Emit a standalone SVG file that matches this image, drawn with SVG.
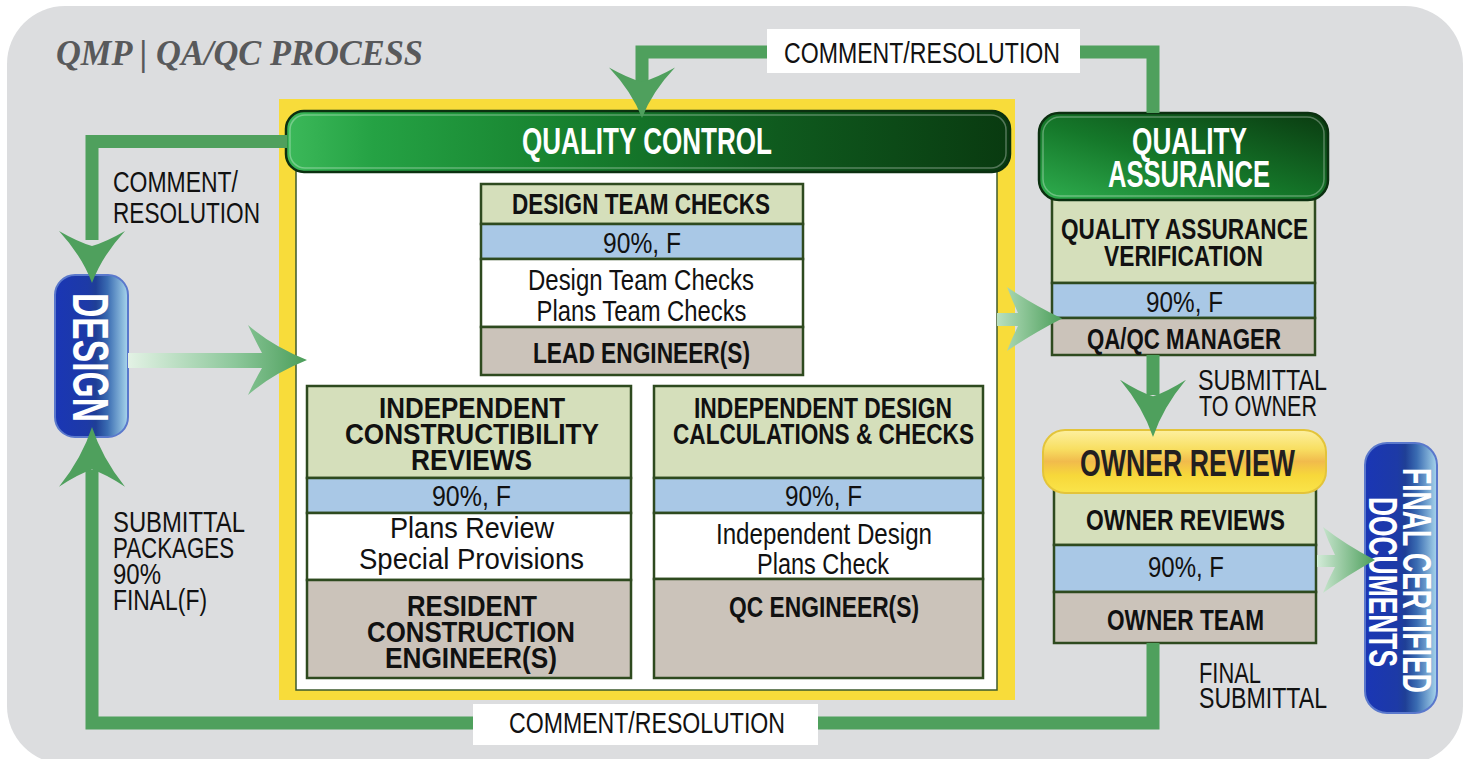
<svg xmlns="http://www.w3.org/2000/svg" width="1468" height="759" viewBox="0 0 1468 759">
<defs>
<style>
.t{font-family:"Liberation Sans",Arial,sans-serif;font-size:29px;fill:#111}
.bd{font-weight:bold}
.c{text-anchor:middle}
.hw{font-weight:bold;font-size:37px;fill:#fff}
.row{stroke:#2e4a1f;stroke-width:2.5}
.rg{fill:#d5dfbb}.rb{fill:#a9c8e6}.rw{fill:#fff}.rt{fill:#cbc3ba}
.conn{fill:none;stroke:#4fa05d;stroke-width:13}
.ah{fill:#4fa05d}
.lblbox{fill:#fff}
</style>
<path id="ah" d="M0,0 Q-10,-27 -33,-52 Q-14,-41 0,-37 Q14,-41 33,-52 Q10,-27 0,0Z"/>
<linearGradient id="gQC" x1="0" y1="0" x2="1" y2="0">
<stop offset="0" stop-color="#3cb95a"/><stop offset="0.12" stop-color="#25a244"/><stop offset="0.38" stop-color="#17822f"/><stop offset="0.68" stop-color="#0f5a1e"/><stop offset="1" stop-color="#093a10"/>
</linearGradient>
<linearGradient id="gQA" x1="0" y1="1" x2="1" y2="0">
<stop offset="0" stop-color="#2fae4f"/><stop offset="0.45" stop-color="#15782a"/><stop offset="1" stop-color="#0a3a10"/>
</linearGradient>
<linearGradient id="gOR" x1="0" y1="0" x2="0" y2="1">
<stop offset="0" stop-color="#fdf0a0"/><stop offset="0.3" stop-color="#f8df62"/><stop offset="0.5" stop-color="#f1bb4c"/><stop offset="0.72" stop-color="#f7d83a"/><stop offset="1" stop-color="#fae44a"/>
</linearGradient>
<linearGradient id="gPill" x1="0" y1="0" x2="1" y2="0">
<stop offset="0" stop-color="#1a36b5"/><stop offset="0.45" stop-color="#1d3aa6"/><stop offset="0.56" stop-color="#1f3f96"/><stop offset="0.72" stop-color="#3a6cb2"/><stop offset="1" stop-color="#a8d6ec"/>
</linearGradient>
<linearGradient id="gA1" gradientUnits="userSpaceOnUse" x1="128" y1="0" x2="307" y2="0">
<stop offset="0" stop-color="#e3f2e5"/><stop offset="0.6" stop-color="#8cc79a"/><stop offset="1" stop-color="#4b9e5a"/>
</linearGradient>
<linearGradient id="gA2" gradientUnits="userSpaceOnUse" x1="997" y1="0" x2="1062" y2="0">
<stop offset="0" stop-color="#b9e0c0"/><stop offset="1" stop-color="#4b9e5a"/>
</linearGradient>
<linearGradient id="gA3" gradientUnits="userSpaceOnUse" x1="1317" y1="0" x2="1375" y2="0">
<stop offset="0" stop-color="#d3ebd8"/><stop offset="1" stop-color="#4b9e5a"/>
</linearGradient>
</defs>

<rect x="7" y="6" width="1456" height="758" rx="58" fill="#dcdddf"/>
<text x="56" y="65" font-family="'Liberation Serif',serif" font-size="35" font-weight="bold" font-style="italic" fill="#58595b" textLength="367" lengthAdjust="spacingAndGlyphs">QMP | QA/QC PROCESS</text>

<g id="qc-frame">
<rect x="279" y="99" width="736" height="601" fill="#f8dc3a"/>
<rect x="296" y="170" width="701" height="520" fill="#fff" stroke="#3c5a2c" stroke-width="1.5"/>
</g>
<g id="qc-header">
<rect x="286" y="111" width="724" height="61" rx="18" fill="url(#gQC)" stroke="#0b3010" stroke-width="2.5"/>
<rect x="290" y="115" width="716" height="53" rx="15" fill="none" stroke="#ffffff" stroke-opacity="0.3" stroke-width="1.5"/>
<text class="t hw c" x="647" y="154" textLength="250" lengthAdjust="spacingAndGlyphs">QUALITY CONTROL</text>
</g>

<g id="design-team-checks">
<rect class="row rg" x="481" y="184" width="322" height="40"/>
<rect class="row rb" x="481" y="224" width="322" height="35"/>
<rect class="row rw" x="481" y="259" width="322" height="68"/>
<rect class="row rt" x="481" y="327" width="322" height="48"/>
<text class="t bd c" x="641" y="214" textLength="258" lengthAdjust="spacingAndGlyphs">DESIGN TEAM CHECKS</text>
<text class="t c" x="642" y="253" textLength="78" lengthAdjust="spacingAndGlyphs">90%, F</text>
<text class="t c" x="641" y="290" textLength="226" lengthAdjust="spacingAndGlyphs">Design Team Checks</text>
<text class="t c" x="641.5" y="321" textLength="210" lengthAdjust="spacingAndGlyphs">Plans Team Checks</text>
<text class="t bd c" x="641.5" y="363" textLength="217" lengthAdjust="spacingAndGlyphs">LEAD ENGINEER(S)</text>
</g>

<g id="constructibility-reviews">
<rect class="row rg" x="307" y="386" width="324" height="92"/>
<rect class="row rb" x="307" y="478" width="324" height="35"/>
<rect class="row rw" x="307" y="513" width="324" height="67"/>
<rect class="row rt" x="307" y="580" width="324" height="98"/>
<text class="t bd c" x="472" y="418" textLength="186" lengthAdjust="spacingAndGlyphs">INDEPENDENT</text>
<text class="t bd c" x="472" y="444" textLength="254" lengthAdjust="spacingAndGlyphs">CONSTRUCTIBILITY</text>
<text class="t bd c" x="471.5" y="470" textLength="121" lengthAdjust="spacingAndGlyphs">REVIEWS</text>
<text class="t c" x="471.5" y="506" textLength="79" lengthAdjust="spacingAndGlyphs">90%, F</text>
<text class="t c" x="472" y="538" textLength="164" lengthAdjust="spacingAndGlyphs">Plans Review</text>
<text class="t c" x="471.5" y="569" textLength="225" lengthAdjust="spacingAndGlyphs">Special Provisions</text>
<text class="t bd c" x="472" y="616" textLength="130" lengthAdjust="spacingAndGlyphs">RESIDENT</text>
<text class="t bd c" x="471" y="642" textLength="208" lengthAdjust="spacingAndGlyphs">CONSTRUCTION</text>
<text class="t bd c" x="471" y="668" textLength="172" lengthAdjust="spacingAndGlyphs">ENGINEER(S)</text>
</g>

<g id="design-calculations">
<rect class="row rg" x="654" y="386" width="329" height="92"/>
<rect class="row rb" x="654" y="478" width="329" height="35"/>
<rect class="row rw" x="654" y="513" width="329" height="66"/>
<rect class="row rt" x="654" y="579" width="329" height="99"/>
<text class="t bd c" x="823" y="418" textLength="258" lengthAdjust="spacingAndGlyphs">INDEPENDENT DESIGN</text>
<text class="t bd c" x="823.5" y="444" textLength="301" lengthAdjust="spacingAndGlyphs">CALCULATIONS &amp; CHECKS</text>
<text class="t c" x="823.5" y="506" textLength="77" lengthAdjust="spacingAndGlyphs">90%, F</text>
<text class="t c" x="824" y="544" textLength="216" lengthAdjust="spacingAndGlyphs">Independent Design</text>
<text class="t c" x="823" y="574" textLength="132" lengthAdjust="spacingAndGlyphs">Plans Check</text>
<text class="t bd c" x="824" y="617" textLength="190" lengthAdjust="spacingAndGlyphs">QC ENGINEER(S)</text>
</g>

<g id="quality-assurance">
<rect class="row rg" x="1052" y="199" width="263" height="84"/>
<rect class="row rb" x="1052" y="283" width="263" height="35"/>
<rect class="row rt" x="1052" y="318" width="263" height="37"/>
<rect x="1039" y="113" width="289" height="87" rx="20" fill="url(#gQA)" stroke="#0b3010" stroke-width="2.5"/>
<rect x="1043" y="117" width="281" height="79" rx="17" fill="none" stroke="#ffffff" stroke-opacity="0.3" stroke-width="1.5"/>
<text class="t hw c" x="1189.5" y="154" textLength="115" lengthAdjust="spacingAndGlyphs">QUALITY</text>
<text class="t hw c" x="1189" y="187" textLength="162" lengthAdjust="spacingAndGlyphs">ASSURANCE</text>
<text class="t bd c" x="1184.5" y="239" textLength="247" lengthAdjust="spacingAndGlyphs">QUALITY ASSURANCE</text>
<text class="t bd c" x="1183.5" y="266" textLength="159" lengthAdjust="spacingAndGlyphs">VERIFICATION</text>
<text class="t c" x="1184.5" y="312" textLength="77" lengthAdjust="spacingAndGlyphs">90%, F</text>
<text class="t bd c" x="1184" y="349" textLength="194" lengthAdjust="spacingAndGlyphs">QA/QC MANAGER</text>
</g>

<g id="owner-review">
<rect class="row rg" x="1054" y="490" width="262" height="55"/>
<rect class="row rb" x="1054" y="545" width="262" height="47"/>
<rect class="row rt" x="1054" y="592" width="262" height="51"/>
<rect x="1043" y="430" width="283" height="63" rx="22" fill="url(#gOR)" stroke="#e3c43a" stroke-width="2"/>
<text class="t bd c" x="1187.5" y="476" font-size="37" fill="#231f20" textLength="215" lengthAdjust="spacingAndGlyphs" style="font-size:37px;fill:#231f20">OWNER REVIEW</text>
<text class="t bd c" x="1185.5" y="530" textLength="199" lengthAdjust="spacingAndGlyphs">OWNER REVIEWS</text>
<text class="t c" x="1186" y="577" textLength="76" lengthAdjust="spacingAndGlyphs">90%, F</text>
<text class="t bd c" x="1185.5" y="630" textLength="157" lengthAdjust="spacingAndGlyphs">OWNER TEAM</text>
</g>

<g id="design">
<rect x="55" y="275" width="73" height="162" rx="20" fill="url(#gPill)" stroke="#5a78cc" stroke-width="2"/>
<text class="t bd c" transform="translate(73,357.5) rotate(90)" x="0" y="0" textLength="129" lengthAdjust="spacingAndGlyphs" style="font-size:50px;fill:#fff">DESIGN</text>
</g>

<g id="final-certified-documents">
<rect x="1365" y="443" width="72" height="270" rx="22" fill="url(#gPill)" stroke="#5a78cc" stroke-width="2"/>
<text class="t bd c" transform="translate(1403,580.5) rotate(90)" x="0" y="0" textLength="225" lengthAdjust="spacingAndGlyphs" style="font-size:41px;fill:#fff">FINAL CERTIFIED</text>
<text class="t bd c" transform="translate(1369,582) rotate(90)" x="0" y="0" textLength="170" lengthAdjust="spacingAndGlyphs" style="font-size:41px;fill:#fff">DOCUMENTS</text>
</g>

<g id="connectors">
<path class="conn" d="M1153,113 V52 H642 V82"/>
<use href="#ah" class="ah" transform="translate(642,118) scale(1,0.97)"/>
<path class="conn" d="M287,141.5 H92 V240"/>
<use href="#ah" class="ah" transform="translate(92,283)"/>
<path class="conn" d="M1153,643 V723 H92 V470"/>
<use href="#ah" class="ah" transform="translate(92,427) rotate(180) scale(1,1.15)"/>
<path class="conn" d="M1153,355 V395"/>
<use href="#ah" class="ah" transform="translate(1153,437) scale(1,1.1)"/>
<path d="M128,353 H262 Q255,340 248,325 Q272,346 307,360 Q272,374 248,395 Q255,380 262,368 H128 Z" fill="url(#gA1)"/>
<path d="M997,313 H1018 Q1012,300 1007,287 Q1032,304 1062,318.5 Q1032,334 1007,351 Q1012,338 1018,326 H997 Z" fill="url(#gA2)"/>
<path d="M1317,555 H1335 Q1328,541 1323,527 Q1346,545 1375,560 Q1346,576 1323,593 Q1328,580 1335,567 H1317 Z" fill="url(#gA3)"/>
<rect class="lblbox" x="767" y="29" width="313" height="44"/>
<text class="t c" x="922" y="63" textLength="276" lengthAdjust="spacingAndGlyphs">COMMENT/RESOLUTION</text>
<rect class="lblbox" x="473" y="704" width="345" height="41"/>
<text class="t c" x="647" y="733" textLength="276" lengthAdjust="spacingAndGlyphs">COMMENT/RESOLUTION</text>
<text class="t" x="113" y="192" textLength="125" lengthAdjust="spacingAndGlyphs">COMMENT/</text>
<text class="t" x="113" y="223" textLength="147" lengthAdjust="spacingAndGlyphs">RESOLUTION</text>
<text class="t" x="113" y="532" textLength="132" lengthAdjust="spacingAndGlyphs">SUBMITTAL</text>
<text class="t" x="113" y="558" textLength="121" lengthAdjust="spacingAndGlyphs">PACKAGES</text>
<text class="t" x="113" y="584" textLength="48" lengthAdjust="spacingAndGlyphs">90%</text>
<text class="t" x="113" y="610" textLength="94" lengthAdjust="spacingAndGlyphs">FINAL(F)</text>
<text class="t" x="1198" y="390" textLength="129" lengthAdjust="spacingAndGlyphs">SUBMITTAL</text>
<text class="t" x="1199" y="416" textLength="118" lengthAdjust="spacingAndGlyphs">TO OWNER</text>
<text class="t" x="1199" y="683" textLength="62" lengthAdjust="spacingAndGlyphs">FINAL</text>
<text class="t" x="1199" y="708" textLength="128" lengthAdjust="spacingAndGlyphs">SUBMITTAL</text>
</g>
</svg>
